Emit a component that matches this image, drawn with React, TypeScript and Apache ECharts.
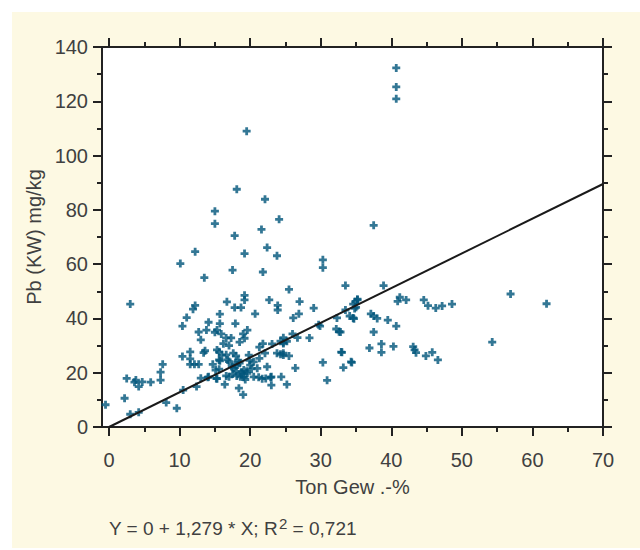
import React, { useEffect, useRef } from "react";
import * as echarts from "echarts";

// Axis settings
const xMajorTicks = [0, 10, 20, 30, 40, 50, 60, 70];
const xMinorTicks = [5, 15, 25, 35, 45, 55, 65];
const xRange = [-1, 70];
const yRange = [0, 140];
const yInterval = 20;

// Regression
const intercept = 0;
const slope = 1.279;
const lineEnds = [0, 70];

// Samples: [Ton Gew.-%, Pb (KW) mg/kg]
const highOutliers = [
  [40.7, 132.3], [40.7, 125.3], [40.7, 120.9], [19.5, 109], [18.1, 87.6], [22.1, 83.9],
  [15.0, 79.5], [15.0, 74.9], [24.1, 76.5], [21.6, 72.8], [17.8, 70.5], [37.5, 74.3],
  [12.2, 64.6], [19.2, 63.9], [22.4, 66.1], [23.8, 63.1], [10.1, 60.2], [17.5, 57.8],
  [21.8, 57.1], [13.5, 55.0], [30.3, 61.6], [30.3, 58.7], [25.5, 50.7],
];

const leftCluster = [
  [3.0, 45.3], [12.2, 44.8], [11.9, 43.4], [11.0, 40.3], [10.4, 37.2], [14.1, 38.6],
  [12.7, 35.0], [13.8, 35.7], [13.0, 32.1], [11.5, 27.7], [13.4, 27.4], [13.6, 28.1],
  [10.4, 26.0], [11.5, 25.1], [11.5, 23.1], [12.1, 23.1], [12.7, 23.1], [7.6, 23.1],
  [7.3, 20.2], [7.3, 17.3], [2.5, 17.9], [3.8, 17.3], [3.6, 16.5], [4.2, 14.9],
  [4.7, 16.6], [5.9, 16.5], [2.2, 10.6], [-0.5, 8.2], [8.1, 9.0], [9.6, 6.9],
  [3.0, 4.7], [4.2, 5.4], [10.5, 13.6], [12.4, 14.9], [14.1, 18.5],
];

const coreCluster = [
  [19.2, 48.5], [19.2, 46.8], [16.7, 46.1], [17.8, 44.0], [18.7, 44.0], [22.7, 46.8],
  [23.9, 44.8], [23.9, 43.1], [15.7, 41.6], [20.7, 41.7], [15.7, 38.1], [17.9, 38.1],
  [15.0, 34.9], [15.3, 35.7], [15.9, 34.3], [19.6, 35.7], [19.0, 34.3], [19.2, 32.7],
  [16.6, 32.8], [17.3, 32.8], [18.5, 31.3], [16.2, 30.7], [17.0, 30.0], [21.8, 30.7],
  [23.1, 30.6], [24.3, 31.6], [24.7, 31.1], [25.2, 31.6], [21.3, 29.4], [15.3, 28.4],
  [15.6, 27.7], [17.6, 27.2], [16.6, 26.6], [22.1, 27.2], [23.8, 27.2], [24.3, 26.8],
  [24.7, 26.5], [18.3, 24.6], [19.9, 24.6], [15.7, 24.4], [21.3, 25.3], [14.7, 23.1],
  [15.1, 21.0], [15.6, 21.3], [17.4, 22.2], [17.7, 21.6], [18.2, 22.8], [18.5, 23.5],
  [19.1, 21.0], [21.0, 21.6], [22.4, 22.2], [14.0, 18.3], [16.6, 18.8], [18.1, 18.8],
  [18.6, 18.5], [19.1, 18.3], [19.6, 19.8], [20.5, 18.5], [21.2, 18.3], [21.7, 17.8],
  [22.9, 18.3], [24.4, 18.5], [25.2, 15.7], [15.3, 17.8], [16.4, 15.7], [23.0, 15.4],
  [18.4, 14.3], [19.0, 11.9], [13.0, 18.0], [17.8, 23.0], [18.8, 20.2], [19.5, 20.5],
  [18.0, 20.5], [20.0, 22.8], [18.8, 19.5], [19.3, 17.5], [17.5, 19.5], [20.5, 24.0],
  [19.8, 26.5], [18.0, 26.2], [16.0, 26.5], [15.6, 24.7], [16.8, 24.7], [17.0, 24.1],
  [20.2, 21.4], [22.2, 17.9], [23.0, 18.5], [17.0, 18.5], [15.2, 17.9],
];

const midCluster = [
  [33.5, 52.1], [27.0, 46.2], [29.0, 43.8], [26.9, 41.7], [26.1, 40.2], [34.6, 45.3],
  [35.2, 46.8], [34.8, 43.7], [33.5, 43.1], [32.3, 40.2], [34.1, 40.9], [34.6, 40.2],
  [29.7, 37.7], [29.9, 37.2], [24.7, 32.9], [26.0, 34.3], [26.7, 32.9], [28.4, 32.8],
  [24.7, 30.8], [32.2, 36.1], [32.6, 35.1], [32.9, 27.6], [24.7, 27.2], [25.5, 26.2],
  [26.4, 21.7], [30.3, 23.8], [33.2, 21.9], [34.3, 24.0], [30.9, 17.2],
];

const rightCluster = [
  [38.9, 52.1], [35.2, 47.1], [34.9, 46.1], [35.0, 44.1], [41.2, 47.8], [40.9, 46.3],
  [42.1, 46.8], [44.6, 46.8], [45.2, 44.7], [46.3, 43.8], [47.2, 44.6], [48.6, 45.3],
  [34.7, 39.9], [37.1, 41.7], [37.5, 40.9], [38.0, 40.0], [39.5, 39.4], [40.7, 37.2],
  [37.5, 35.0], [32.8, 35.0], [36.9, 29.1], [38.6, 30.6], [38.6, 27.5], [40.3, 29.7],
  [43.1, 29.6], [43.3, 28.4], [43.5, 27.4], [44.9, 26.2], [45.8, 27.5], [46.6, 24.7],
  [33.0, 27.5], [34.4, 23.8], [56.9, 49.0], [62.0, 45.4], [54.3, 31.3],
];

const FONT = "'Liberation Sans', Arial, sans-serif";
const TEXT = "#404040";
const AXIS = "#222";
const MARK = "#00557a";
const FS = 20;
const PLUS = "path://M2.6,0H5.4V2.6H8V5.4H5.4V8H2.6V5.4H0V2.6H2.6Z";

export default function App() {
  const ref = useRef<HTMLDivElement>(null);
  useEffect(() => {
    if (!ref.current) return;
    const chart = echarts.init(ref.current, null, { renderer: "svg" });
    const points = [
      ...highOutliers, ...leftCluster, ...coreCluster, ...midCluster, ...rightCluster,
    ];
    const tickStyle = { color: AXIS, width: 2 };
    const textStyle = { fontSize: FS, color: TEXT, fontFamily: FONT, fontWeight: "normal" };
    const xBase = {
      type: "value",
      min: xRange[0],
      max: xRange[1],
      splitLine: { show: false },
    };
    const yBase = {
      type: "value",
      min: yRange[0],
      max: yRange[1],
      interval: yInterval,
      splitLine: { show: false },
      minorSplitLine: { show: false },
      minorTick: { show: true, splitNumber: 2, length: 5, lineStyle: tickStyle },
      axisTick: { show: true, length: 9, lineStyle: tickStyle },
      axisLine: { show: true, onZero: false, lineStyle: { color: AXIS, width: 2 } },
    };
    const option: any = {
      animation: false,
      backgroundColor: "#ffffff",
      graphic: {
        elements: [
          {
            type: "rect",
            z: -100,
            silent: true,
            shape: { x: 12, y: 12, width: 628, height: 536 },
            style: { fill: "#fdf9e3" },
          },
        ],
      },
      title: {
        text: "{a|Y = 0 + 1,279 * X; R}{s|2}{a| = 0,721}",
        left: 104,
        top: 511,
        textStyle: {
          fontWeight: "normal",
          rich: {
            a: { ...textStyle, fontSize: 19 },
            s: { ...textStyle, fontSize: 15, padding: [0, 0, 9, 1] },
          },
        },
      },
      grid: {
        left: 102,
        right: 37,
        top: 47,
        bottom: 123,
        show: true,
        backgroundColor: "#ffffff",
        borderWidth: 0,
      },
      xAxis: [
        {
          ...xBase,
          position: "bottom",
          axisLine: { show: true, onZero: false, lineStyle: { color: AXIS, width: 2 } },
          axisTick: { show: true, customValues: xMajorTicks, length: 9, lineStyle: tickStyle },
          axisLabel: { customValues: xMajorTicks, margin: 23, ...textStyle },
          name: "Ton Gew .-%",
          nameLocation: "middle",
          nameGap: 50,
          nameTextStyle: textStyle,
        },
        {
          ...xBase,
          position: "bottom",
          axisLine: { show: false, onZero: false },
          axisTick: { show: true, customValues: xMinorTicks, length: 5, lineStyle: tickStyle },
          axisLabel: { show: false },
        },
        {
          ...xBase,
          position: "top",
          axisLine: { show: true, onZero: false, lineStyle: { color: AXIS, width: 2 } },
          axisTick: { show: true, customValues: xMajorTicks, length: 9, lineStyle: tickStyle },
          axisLabel: { show: false },
        },
        {
          ...xBase,
          position: "top",
          axisLine: { show: false, onZero: false },
          axisTick: { show: true, customValues: xMinorTicks, length: 5, lineStyle: tickStyle },
          axisLabel: { show: false },
        },
      ],
      yAxis: [
        {
          ...yBase,
          position: "left",
          axisLabel: { margin: 14, ...textStyle },
          name: "Pb (KW) mg/kg",
          nameLocation: "middle",
          nameGap: 52,
          nameRotate: 90,
          nameTextStyle: textStyle,
        },
        {
          ...yBase,
          position: "right",
          axisLabel: { show: false },
        },
      ],
      series: [
        {
          type: "scatter",
          xAxisIndex: 0,
          yAxisIndex: 0,
          data: points,
          symbol: PLUS,
          symbolSize: 8,
          itemStyle: { color: MARK },
          clip: false,
          z: 3,
        },
        {
          type: "line",
          xAxisIndex: 0,
          yAxisIndex: 0,
          data: lineEnds.map((x) => [x, intercept + slope * x]),
          symbol: "none",
          lineStyle: { color: "#1a1a1a", width: 2 },
          z: 4,
        },
      ],
    };
    chart.setOption(option);
    return () => chart.dispose();
  }, []);
  return (
    <div
      ref={ref}
      style={{ position: "fixed", left: 0, top: 0, width: 640, height: 550 }}
    />
  );
}
